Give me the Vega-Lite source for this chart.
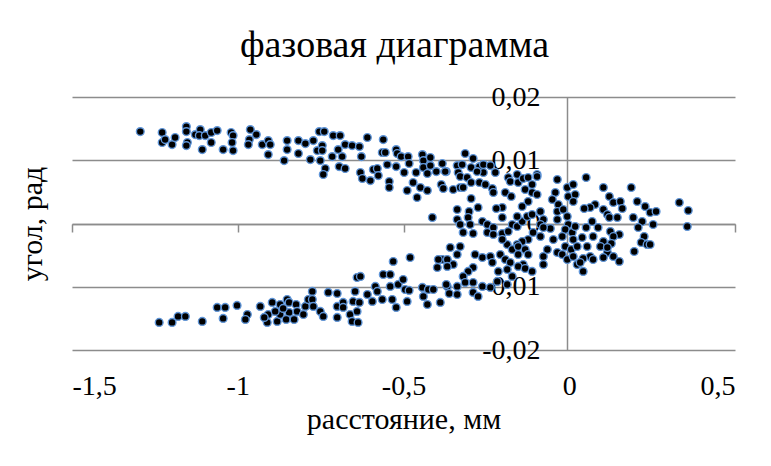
{
  "$schema": "https://vega.github.io/schema/vega-lite/v6.json",
  "autosize": "none",
  "width": 663,
  "height": 253,
  "padding": {"left": 72, "top": 97, "right": 36, "bottom": 116},
  "background": "white",
  "title": {"text": "фазовая диаграмма", "font": "Liberation Serif", "fontSize": 38, "fontWeight": "normal", "color": "black", "offset": 18, "dx": -9},
  "data": {"values": [
{"x":-1.294,"y":0.01453},{"x":-1.228,"y":0.01438},{"x":-1.228,"y":0.0128},{"x":-1.219,"y":0.01327},{"x":-1.198,"y":0.01248},{"x":-1.189,"y":0.01359},{"x":-1.155,"y":0.01532},{"x":-1.155,"y":0.01453},{"x":-1.152,"y":0.0128},{"x":-1.155,"y":0.01232},
{"x":-1.128,"y":0.01406},{"x":-1.113,"y":0.01485},{"x":-1.116,"y":0.0139},{"x":-1.107,"y":0.01169},{"x":-1.098,"y":0.0139},{"x":-1.08,"y":0.01438},{"x":-1.08,"y":0.0128},{"x":-1.062,"y":0.01469},{"x":-1.044,"y":0.01169},{"x":-1.02,"y":0.01438},
{"x":-1.014,"y":0.0139},{"x":-1.017,"y":0.0128},{"x":-1.014,"y":0.01153},{"x":-0.962,"y":0.01485},{"x":-0.965,"y":0.01327},{"x":-0.968,"y":0.01248},{"x":-0.944,"y":0.01406},{"x":-0.926,"y":0.01248},{"x":-0.908,"y":0.01311},{"x":-0.902,"y":0.01248},
{"x":-0.908,"y":0.0109},{"x":-0.86,"y":0.00995},{"x":-0.851,"y":0.01311},{"x":-0.851,"y":0.01169},{"x":-0.817,"y":0.01311},{"x":-0.817,"y":0.01106},{"x":-0.796,"y":0.01264},{"x":-0.781,"y":0.01011},{"x":-0.772,"y":0.01311},{"x":-0.754,"y":0.01453},
{"x":-0.739,"y":0.01453},{"x":-0.76,"y":0.01153},{"x":-0.745,"y":0.01232},{"x":-0.745,"y":0.01153},{"x":-0.751,"y":0.00995},{"x":-0.736,"y":0.00869},{"x":-0.742,"y":0.00774},{"x":-0.715,"y":0.01058},{"x":-0.712,"y":0.0139},{"x":-0.691,"y":0.0139},
{"x":-0.697,"y":0.01169},{"x":-0.685,"y":0.01058},{"x":-0.694,"y":0.009},{"x":-0.676,"y":0.00869},{"x":-0.676,"y":0.01248},{"x":-0.655,"y":0.01232},{"x":-0.633,"y":0.01216},{"x":-0.627,"y":0.01058},{"x":-0.609,"y":0.01359},{"x":-0.63,"y":0.00806},
{"x":-0.624,"y":0.00711},{"x":-0.6,"y":0.00679},{"x":-0.591,"y":0.00853},{"x":-0.579,"y":0.00869},{"x":-0.576,"y":0.00758},{"x":-0.561,"y":0.01327},{"x":-0.564,"y":0.01122},{"x":-0.555,"y":0.01122},{"x":-0.549,"y":0.00932},{"x":-0.543,"y":0.00664},
{"x":-0.543,"y":0.00569},{"x":-0.522,"y":0.01169},{"x":-0.519,"y":0.01106},{"x":-0.522,"y":0.009},{"x":-0.507,"y":0.01058},{"x":-0.498,"y":0.00806},{"x":-0.486,"y":0.01058},{"x":-0.483,"y":0.00948},{"x":-0.489,"y":0.00521},{"x":-0.471,"y":0.00648},
{"x":-0.462,"y":0.00806},{"x":-0.459,"y":0.00411},{"x":-0.449,"y":0.00569},{"x":-0.443,"y":0.0109},{"x":-0.44,"y":0.00995},{"x":-0.44,"y":0.00885},{"x":-0.428,"y":0.0079},{"x":-0.428,"y":0.00521},{"x":-0.419,"y":0.00916},{"x":-0.419,"y":0.01043},
{"x":-0.401,"y":0.00821},{"x":-0.383,"y":0.00948},{"x":-0.386,"y":0.00616},{"x":-0.38,"y":0.00553},{"x":-0.371,"y":0.00821},{"x":-0.35,"y":0.00537},{"x":-0.338,"y":0.00916},{"x":-0.335,"y":0.00806},{"x":-0.329,"y":0.00569},{"x":-0.338,"y":0.00221},
{"x":-0.413,"y":0.00095},{"x":-0.338,"y":0.00063},
{"x":-0.314,"y":0.01106},{"x":-0.29,"y":0.01027},{"x":-0.374,"y":0.00821},{"x":-0.323,"y":0.00932},{"x":-0.296,"y":0.00885},{"x":-0.271,"y":0.009},{"x":-0.259,"y":0.00932},{"x":-0.238,"y":0.00916},{"x":-0.223,"y":0.00806},{"x":-0.259,"y":0.00806},
{"x":-0.278,"y":0.00821},{"x":-0.329,"y":0.00743},{"x":-0.308,"y":0.00727},{"x":-0.296,"y":0.00648},{"x":-0.271,"y":0.00648},{"x":-0.253,"y":0.00616},{"x":-0.232,"y":0.00553},{"x":-0.229,"y":0.0049},{"x":-0.296,"y":0.00395},{"x":-0.32,"y":0.00569},
{"x":-0.184,"y":0.00727},{"x":-0.178,"y":0.00664},{"x":-0.154,"y":0.00648},{"x":-0.157,"y":0.00774},{"x":-0.139,"y":0.00711},{"x":-0.124,"y":0.00727},{"x":-0.112,"y":0.00616},{"x":-0.097,"y":0.00774},{"x":-0.133,"y":0.00537},{"x":-0.112,"y":0.0049},
{"x":-0.097,"y":0.00458},{"x":-0.193,"y":0.0049},{"x":-0.175,"y":0.00427},{"x":-0.124,"y":0.00348},{"x":-0.142,"y":0.00269},{"x":-0.202,"y":0.00253},{"x":-0.22,"y":0.00237},{"x":-0.202,"y":0.00095},{"x":-0.275,"y":0.00253},{"x":-0.302,"y":0.0019},
{"x":-0.329,"y":-0.00016},{"x":-0.305,"y":0.00095},{"x":-0.299,"y":-0.00016},{"x":-0.262,"y":0.00032},{"x":-0.247,"y":-0.00016},{"x":-0.32,"y":-0.00142},{"x":-0.29,"y":-0.00158},{"x":-0.247,"y":-0.00142},{"x":-0.229,"y":-0.00063},{"x":-0.229,"y":-0.00174},
{"x":-0.202,"y":-0.00158},{"x":-0.184,"y":-0.00126},{"x":-0.172,"y":-0.00016},{"x":-0.157,"y":-0.00047},{"x":-0.142,"y":0.00032},{"x":-0.157,"y":0.00111},{"x":-0.127,"y":0.00111},{"x":-0.112,"y":0.00142},{"x":-0.087,"y":0.0019},{"x":-0.078,"y":0.00063},
{"x":-0.087,"y":-0.00016},{"x":-0.109,"y":-0.00142},{"x":-0.124,"y":-0.00253},{"x":-0.142,"y":-0.00284},{"x":-0.157,"y":-0.00332},{"x":-0.187,"y":-0.00332},{"x":-0.202,"y":-0.00253},{"x":-0.359,"y":-0.00379},{"x":-0.329,"y":-0.00363},{"x":-0.383,"y":-0.00569},
{"x":-0.365,"y":-0.00616},{"x":-0.35,"y":-0.00648},{"x":-0.284,"y":-0.0049},{"x":-0.262,"y":-0.00537},{"x":-0.238,"y":-0.00521},{"x":-0.232,"y":-0.00616},{"x":-0.208,"y":-0.0049},{"x":-0.193,"y":-0.00569},{"x":-0.178,"y":-0.00616},{"x":-0.172,"y":-0.00411},
{"x":-0.154,"y":-0.00363},{"x":-0.154,"y":-0.0049},{"x":-0.133,"y":-0.00411},{"x":-0.124,"y":-0.0049},{"x":-0.139,"y":-0.00648},{"x":-0.154,"y":-0.00679},{"x":-0.187,"y":-0.00727},{"x":-0.214,"y":-0.00758},{"x":-0.29,"y":-0.00695},{"x":-0.305,"y":-0.00758},
{"x":-0.32,"y":-0.00837},{"x":-0.314,"y":-0.00932},{"x":-0.29,"y":-0.00932},{"x":-0.262,"y":-0.00995},{"x":-0.29,"y":-0.0109},{"x":-0.368,"y":-0.00995},{"x":-0.338,"y":-0.00995},{"x":-0.389,"y":-0.01248},{"x":-0.087,"y":-0.00205},{"x":-0.066,"y":-0.00411},
{"x":-0.078,"y":-0.00521},{"x":-0.036,"y":-0.00458},{"x":-0.021,"y":-0.0049},{"x":-0.006,"y":-0.00569},{"x":-0.048,"y":-0.00253},{"x":-0.042,"y":0.0049},{"x":-0.036,"y":0.00695},{"x":-0.051,"y":0.00379},{"x":-0.033,"y":0.003},{"x":-0.036,"y":0.0019},
{"x":-0.036,"y":0.00063},{"x":-0.018,"y":0.00221},{"x":-0.006,"y":0.00569},{"x":-0.003,"y":0.00427},{"x":-0.006,"y":0.00111},{"x":-0.003,"y":-0.00016},{"x":-0.012,"y":-0.00095},{"x":-0.021,"y":-0.00205},{"x":0.009,"y":-0.00142},{"x":0.012,"y":-0.00253},
{"x":-0.012,"y":-0.00363},{"x":0.006,"y":-0.00411},{"x":0.012,"y":-0.00521},{"x":-0.057,"y":-0.00079},{"x":-0.078,"y":-0.00063},
{"x":-0.275,"y":-0.01153},{"x":-0.238,"y":-0.01011},{"x":-0.217,"y":-0.00916},{"x":-0.187,"y":-0.00964},{"x":-0.172,"y":-0.00837},{"x":-0.133,"y":-0.00711},{"x":-0.112,"y":-0.00758},{"x":-0.078,"y":-0.00648},{"x":-0.097,"y":0.00743},
{"x":0.051,"y":0.00727},{"x":0.012,"y":0.00616},{"x":0.018,"y":0.00458},{"x":0.012,"y":0.00348},{"x":0.103,"y":0.00569},{"x":0.121,"y":0.00427},{"x":0.133,"y":0.00332},{"x":0.154,"y":0.00348},{"x":0.16,"y":0.00237},{"x":0.078,"y":0.003},
{"x":0.063,"y":0.00253},{"x":0.045,"y":0.00237},{"x":0.103,"y":0.00221},{"x":0.115,"y":0.00142},{"x":0.121,"y":0.00095},{"x":0.145,"y":0.00095},{"x":0.187,"y":0.00569},{"x":0.205,"y":0.00348},{"x":0.229,"y":0.00269},{"x":0.244,"y":0.00174},
{"x":0.262,"y":0.0019},{"x":0.193,"y":0.00095},{"x":0.22,"y":0.00032},{"x":0.253,"y":-0.00016},{"x":0.208,"y":-0.00063},{"x":0.069,"y":0.00032},{"x":0.087,"y":-0.00063},{"x":0.051,"y":-0.00063},{"x":0.018,"y":-0.00047},{"x":0.124,"y":-0.00126},
{"x":0.151,"y":-0.00174},{"x":0.133,"y":-0.00205},{"x":0.072,"y":-0.00205},{"x":0.039,"y":-0.00221},{"x":0.103,"y":-0.00284},{"x":0.127,"y":-0.00316},{"x":0.054,"y":-0.00363},{"x":0.024,"y":-0.00363},{"x":0.094,"y":-0.00363},{"x":0.226,"y":-0.00205},
{"x":0.217,"y":-0.003},{"x":0.235,"y":-0.00332},{"x":0.196,"y":-0.00442},{"x":0.115,"y":-0.00458},{"x":0.133,"y":-0.00521},{"x":0.151,"y":-0.006},{"x":0.103,"y":-0.00537},{"x":0.063,"y":-0.00521},{"x":0.042,"y":-0.00553},{"x":0.024,"y":-0.00648},
{"x":0.042,"y":-0.00758},{"x":0.332,"y":0.00332},{"x":0.359,"y":0.00205},{"x":0.356,"y":-0.00047},{"x":0.244,"y":-0.00332},{"x":0.072,"y":-0.00569},{"x":0.115,"y":-0.00379},{"x":0.033,"y":-0.00616},
{"x":-1.237,"y":-0.01564},{"x":-1.198,"y":-0.01564},{"x":-1.18,"y":-0.01469},{"x":-1.158,"y":-0.01469},{"x":-1.107,"y":-0.01548},{"x":-1.062,"y":-0.01327},{"x":-1.038,"y":-0.01327},{"x":-1.044,"y":-0.01501},{"x":-1.002,"y":-0.01295},{"x":-0.971,"y":-0.01438},
{"x":-0.977,"y":-0.01517},{"x":-0.932,"y":-0.01311},{"x":-0.908,"y":-0.01438},{"x":-0.911,"y":-0.01564},{"x":-0.896,"y":-0.01248},{"x":-0.881,"y":-0.01548},{"x":-0.872,"y":-0.0128},{"x":-0.872,"y":-0.01438},{"x":-0.851,"y":-0.01201},{"x":-0.845,"y":-0.01248},
{"x":-0.845,"y":-0.01406},{"x":-0.854,"y":-0.01517},{"x":-0.83,"y":-0.01517},{"x":-0.824,"y":-0.0128},{"x":-0.821,"y":-0.0139},{"x":-0.802,"y":-0.01438},{"x":-0.796,"y":-0.01311},{"x":-0.787,"y":-0.01201},{"x":-0.92,"y":-0.01485},{"x":-0.887,"y":-0.0139},
{"x":-0.863,"y":-0.01343},
{"x":-0.775,"y":-0.01074},{"x":-0.775,"y":-0.01201},{"x":-0.772,"y":-0.01311},{"x":-0.751,"y":-0.0139},{"x":-0.742,"y":-0.01469},{"x":-0.727,"y":-0.0109},{"x":-0.7,"y":-0.01106},{"x":-0.7,"y":-0.01311},{"x":-0.7,"y":-0.01485},{"x":-0.682,"y":-0.01248},
{"x":-0.682,"y":-0.01327},{"x":-0.661,"y":-0.01438},{"x":-0.655,"y":-0.01548},{"x":-0.637,"y":-0.01564},{"x":-0.64,"y":-0.0139},{"x":-0.652,"y":-0.01232},{"x":-0.633,"y":-0.01248},{"x":-0.646,"y":-0.01074},{"x":-0.64,"y":-0.00853},{"x":-0.63,"y":-0.00837},
{"x":-0.609,"y":-0.01122},{"x":-0.594,"y":-0.01232},{"x":-0.585,"y":-0.00995},{"x":-0.579,"y":-0.01074},{"x":-0.564,"y":-0.01201},{"x":-0.561,"y":-0.00806},{"x":-0.54,"y":-0.00806},{"x":-0.531,"y":-0.006},{"x":-0.54,"y":-0.00995},{"x":-0.534,"y":-0.01201},
{"x":-0.522,"y":-0.01327},{"x":-0.516,"y":-0.00964},{"x":-0.501,"y":-0.00885},{"x":-0.495,"y":-0.01043},{"x":-0.489,"y":-0.01232},{"x":-0.483,"y":-0.01058},{"x":-0.48,"y":-0.00537},{"x":-0.443,"y":-0.01011},{"x":-0.44,"y":-0.01153},{"x":-0.428,"y":-0.0128},
{"x":-0.425,"y":-0.01043},{"x":-0.41,"y":-0.01043},{"x":-0.371,"y":-0.00964},{"x":-0.362,"y":-0.01106},{"x":-0.338,"y":-0.01122},{"x":-0.398,"y":-0.00695},{"x":-0.395,"y":-0.00569},{"x":-0.368,"y":-0.00569},{"x":-0.368,"y":-0.00679},{"x":-0.338,"y":-0.0049}
  ]},
  "mark": {"type": "point", "shape": "circle", "filled": true, "fill": "black", "stroke": "#5f95d8", "strokeWidth": 1.4, "size": 60, "opacity": 1},
  "encoding": {
    "x": {"field": "x", "type": "quantitative",
      "scale": {"domain": [-1.5, 0.5], "nice": false, "zero": false},
      "axis": {"title": "расстояние, мм", "values": [-1.5, -1, -0.5, 0, 0.5], "offset": -126, "grid": false,
        "domainColor": "#8c8c8c", "domainWidth": 1.5, "tickColor": "#8c8c8c", "tickWidth": 1.5, "tickSize": 8,
        "labelPadding": 140, "labelFont": "Liberation Serif", "labelFontSize": 28, "labelColor": "black",
        "labelExpr": "replace(replace(format(datum.value, '.1~f'), '.', ','), '\u2212', '-')",
        "titleFont": "Liberation Serif", "titleFontSize": 30, "titleFontWeight": "normal", "titleColor": "black", "titlePadding": 4}},
    "y": {"field": "y", "type": "quantitative",
      "scale": {"domain": [-0.02, 0.02], "nice": false, "zero": false},
      "axis": {"title": "угол, рад", "values": [-0.02, -0.01, 0, 0.01, 0.02], "offset": -495, "grid": true,
        "gridColor": "#8c8c8c", "gridWidth": 1.5, "domainColor": "#8c8c8c", "domainWidth": 1.5, "ticks": false,
        "labelPadding": 27, "labelFont": "Liberation Serif", "labelFontSize": 28, "labelColor": "black",
        "labelExpr": "replace(replace(format(datum.value, '.2~f'), '.', ','), '\u2212', '-')",
        "titleFont": "Liberation Serif", "titleFontSize": 30, "titleFontWeight": "normal", "titleColor": "black", "titlePadding": 434}}
  },
  "config": {"view": {"stroke": null}}
}
